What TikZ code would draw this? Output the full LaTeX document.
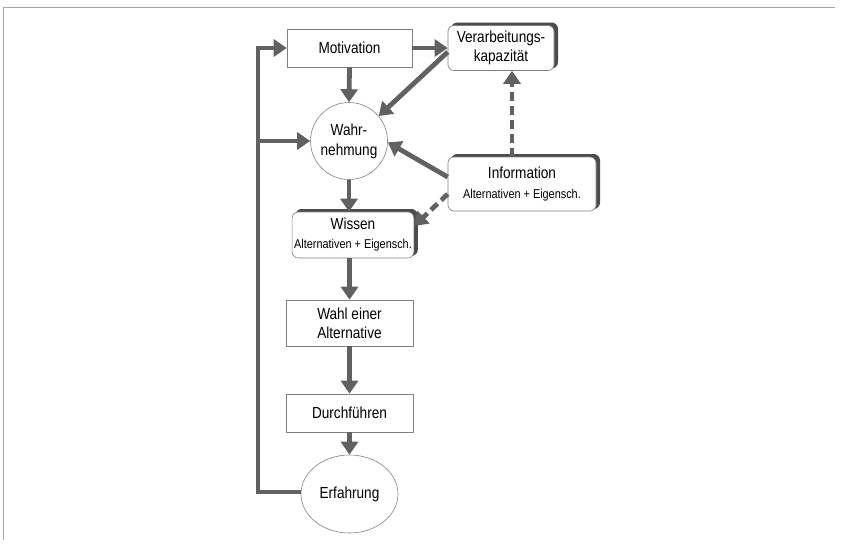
\documentclass[tikz,border=0pt]{standalone}
\usepackage{fontspec}
\setmainfont{Liberation Sans}[FakeStretch=0.85]
\usetikzlibrary{arrows.meta,shapes.geometric,shadows}

\definecolor{flowgray}{gray}{0.38}
\definecolor{edgegray}{gray}{0.5}
\definecolor{shadegray}{gray}{0.3}

\tikzset{
  plainbox/.style={draw=edgegray, line width=0.6pt, fill=white, rectangle,
    align=center, font=\fontsize{16}{19}\selectfont, inner sep=2pt},
  raisedbox/.style={plainbox, rounded corners=6pt,
    copy shadow={shadow xshift=3.5pt, shadow yshift=2.5pt, fill=shadegray,
      draw=shadegray, line width=1pt}},
  roundnode/.style={draw=edgegray, line width=0.6pt, fill=white,
    font=\fontsize{16}{20}\selectfont, align=center, inner sep=0pt},
  flow/.style={draw=flowgray, line width=4.8pt, line join=miter,
    -{Triangle[width=17pt,length=13pt]}},
  dashflow/.style={flow, dash pattern=on 9pt off 5pt},
  frameline/.style={draw=gray!70, line width=0.8pt}
}

\newcommand{\subline}[1]{{\fontsize{12.8}{15}\selectfont #1}}

\begin{document}
\begin{tikzpicture}[x=1pt,y=-1pt]
  \useasboundingbox (0,0) rectangle (847,544);

  % page frame
  \draw[frameline] (3,540) -- (3,7) -- (835,7);

  % boxes
  \node[plainbox, minimum width=125pt, minimum height=38pt] (mot) at (349.5,48) {Motivation};
  \node[raisedbox, minimum width=106pt, minimum height=45pt] (verar) at (501,48)
    {Verarbeitungs-\\kapazität};
  \node[roundnode, circle, minimum size=77pt] (wahr) at (349,141) {Wahr-\\nehmung};
  \node[raisedbox, minimum width=148pt, minimum height=54pt] (info) at (522,184)
    {Information\\[1pt]\subline{Alternativen + Eigensch.}};
  \node[raisedbox, minimum width=121pt, minimum height=46pt] (wiss) at (353,235)
    {Wissen\\\subline{Alternativen + Eigensch.}};
  \node[plainbox, minimum width=127pt, minimum height=46pt] (wahl) at (349.5,323)
    {Wahl einer\\Alternative};
  \node[plainbox, minimum width=127pt, minimum height=38pt] (durch) at (349.5,413) {Durchführen};
  \node[roundnode, ellipse, minimum width=97pt, minimum height=78pt] (erf) at (349.5,494) {Erfahrung};

  % helper coordinates for vertical and feedback lines
  \coordinate (fbx) at (258,0);
  \coordinate (cap) at (512,0);
  \coordinate (erfw) at ([yshift=2pt]erf.west);

  % main sequence
  \draw[flow] (mot.south) -- (wahr.north);
  \draw[flow] (mot.east) -- (verar.west);
  \draw[flow] ([yshift=-4pt]verar.west) -- (wahr.40);
  \draw[flow] ([yshift=7pt]info.west) -- (wahr.-2);
  \draw[dashflow] ([yshift=-10pt]info.west) -- ([yshift=9pt]wiss.east);
  \draw[dashflow] (info.north -| cap) -- (verar.south -| cap);
  \draw[flow] (wahr.south) -- (wahr.south |- wiss.north);
  \draw[flow] (wahl.north |- wiss.south) -- (wahl.north);
  \draw[flow] (wahl.south) -- (durch.north);
  \draw[flow] (durch.south) -- (durch.south |- erf.north);

  % feedback from experience
  \draw[flow] (erfw) -- (fbx |- erfw) -- (fbx |- mot.west) -- (mot.west);
  \draw[flow] (fbx |- wahr.west) -- (wahr.west);
\end{tikzpicture}
\end{document}
